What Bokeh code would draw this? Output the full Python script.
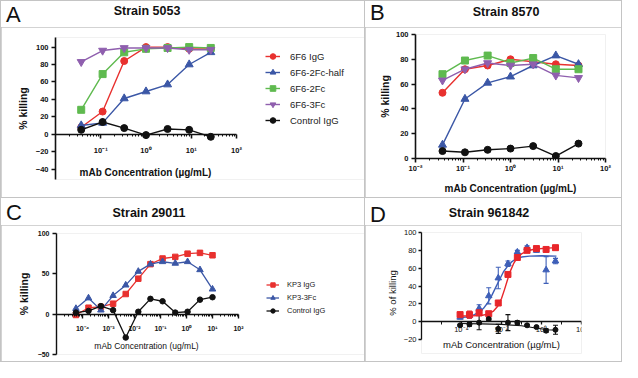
import math
from bokeh.plotting import figure
from bokeh.layouts import row, column
from bokeh.models import (FixedTicker, CustomJSTickFormatter, Range1d, Div, Legend,
                          LegendItem, Whisker, ColumnDataSource, TeeHead, Label)
from bokeh.embed import file_html
from bokeh.resources import INLINE

FONT = "Liberation Sans"

# ---------------- data ----------------
# Panel A / B : 3-fold dilutions (ug/mL)
conc_ab = [0.037, 0.11, 0.33, 1.0, 3.0, 9.0, 27.0]
labels_ab = ["6F6 IgG", "6F6-2Fc-half", "6F6-2Fc", "6F6-3Fc", "Control IgG"]

a_6f6_igg = [8, 26, 84, 100, 100, 98, 98]
a_2fc_half = [10, 13, 41, 49, 57, 80, 94]
a_2fc = [28, 69, 94, 98, 99, 100, 99]
a_3fc = [83, 96, 99, 99, 99, 97, 97]
a_ctrl = [5, 14, 7, -1, 6, 5, -3]

b_6f6_igg = [53, 72, 75, 80, 78, 76, 75]
b_2fc_half = [11, 48, 61, 66, 75, 83, 76]
b_2fc = [68, 79, 83, 77, 81, 72, 72]
b_3fc = [63, 72, 77, 75, 76, 67, 65]
b_ctrl = [6, 5, 7, 8, 10, 2, 12]

# Panel C
conc_c = [5.6e-5, 1.7e-4, 5.1e-4, 1.5e-3, 4.6e-3, 1.4e-2, 4.1e-2, 0.12, 0.37, 1.1, 3.3, 10.0]
labels_c = ["KP3 IgG", "KP3-3Fc", "Control IgG"]
c_kp3_igg = [-1, 8, 9, 13, 25, 44, 62, 69, 71, 75, 76, 73]
c_kp3_3fc = [7, 20, 5, 23, 36, 53, 62, 65, 63, 65, 55, 31]
c_ctrl = [2, 4, 10, 5, -29, 3, 19, 16, 2, 3, 18, 21]

# Panel D
conc_d = [8.5e-5, 2.5e-4, 7.6e-4, 2.3e-3, 6.9e-3, 0.021, 0.062, 0.19, 0.56, 1.7, 5.0]
d_igg = [8, 8, 10, 9, 21, 53, 72, 80, 82, 81, 83]
d_igg_err = [2, 4, 2, 2, 1, 2, 2, 2, 1, 1, 1]
d_3fc = [5, 7, 15, 29, 49, 65, 78, 83, 80, 58, 68]
d_3fc_err = [2, 3, 4, 9, 12, 3, 2, 2, 2, 15, 3]
d_ctrl = [-4, -3, -1, 3, -8, -1, -1, -4, -6, -10, -9]
d_ctrl_err = [1, 2, 8, 2, 5, 9, 2, 1, 1, 2, 5]

# fitted curves in D
d_igg_fit_x = [7.9e-5, 3.2e-4, 1e-3, 2.0e-3, 4.0e-3, 6.3e-3, 1e-2, 1.41e-2, 2.0e-2,
               2.8e-2, 4.0e-2, 6.3e-2, 0.1, 0.2, 0.5, 2.0, 5.6]
d_igg_fit_y = [6.5, 6.6, 7, 8.5, 12, 17, 26, 36, 47, 57, 65, 72, 76, 79.5, 81.5, 82.5, 83]
d_3fc_fit_x = [7.9e-5, 2.0e-4, 4.0e-4, 7.9e-4, 1.26e-3, 2.0e-3, 3.2e-3, 5.0e-3, 7.9e-3,
               1.26e-2, 2.0e-2, 3.2e-2, 5.0e-2, 0.1, 0.25, 1.0, 5.6]
d_3fc_fit_y = [4.5, 5.5, 7.5, 11, 15, 21, 29, 38, 47, 56, 62, 67, 70, 72.5, 73.5, 74, 73.5]
d_ctrl_fit_x = [7.9e-5, 1e-3, 1e-2, 0.1, 0.5, 2.0, 5.6]
d_ctrl_fit_y = [-2, -2.5, -3, -4.5, -7, -9, -9.5]

RED = "#e8312f"
BLUE = "#3b57a6"
GREEN = "#5fba4f"
PURPLE = "#8f5fae"
BLACK = "#111111"
D_RED = "#e8262a"
D_BLUE = "#3e5fb8"

SUP_JS = """
const e = Math.round(Math.log10(tick));
const m = {"-":"\\u207b","0":"\\u2070","1":"\\u00b9","2":"\\u00b2","3":"\\u00b3",
           "4":"\\u2074","5":"\\u2075","6":"\\u2076","7":"\\u2077","8":"\\u2078","9":"\\u2079"};
return "10" + String(e).split("").map(c => m[c]).join("");
"""


def minors(k0, k1):
    return [m * 10.0 ** k for k in range(k0, k1) for m in range(2, 10)]


def make_fig(w, h, left, right, top, bottom, xr, yr, x_loc="below"):
    p = figure(width=w, height=h, x_axis_type="log", x_axis_location=x_loc,
               x_range=Range1d(*xr), y_range=Range1d(*yr),
               output_backend="svg", toolbar_location=None,
               min_border_left=left, min_border_right=right,
               min_border_top=top, min_border_bottom=bottom)
    p.grid.visible = False
    p.outline_line_color = None
    p.background_fill_color = "white"
    p.border_fill_color = "white"
    for ax in (p.xaxis[0], p.yaxis[0]):
        ax.axis_line_color = BLACK
        ax.major_tick_line_color = BLACK
        ax.minor_tick_line_color = BLACK
        ax.major_tick_in = 0
        ax.minor_tick_in = 0
        ax.major_label_text_font = FONT
        ax.axis_label_text_font = FONT
        ax.major_label_text_color = BLACK
        ax.axis_label_text_color = BLACK
    p.yaxis.minor_tick_line_color = None
    p.xaxis.formatter = CustomJSTickFormatter(code=SUP_JS)
    return p


def log_end(start, frame_px, decade_px):
    # right end of a log range so that one decade spans decade_px pixels
    return 10 ** (math.log10(start) + frame_px / decade_px)


def style_bold_axes(p, lw=1.6):
    for ax in (p.xaxis[0], p.yaxis[0]):
        ax.axis_line_width = lw
        ax.major_tick_line_width = lw
        ax.minor_tick_line_width = 1
        ax.major_label_text_font_style = "bold"
        ax.axis_label_text_font_style = "bold"
        ax.major_label_text_font_size = "7.5px"
        ax.major_tick_out = 4
        ax.minor_tick_out = 2


def zero_axis_above(ax, tick, minor, lab_standoff):
    # x axis drawn at y = 0 with ticks and tick labels hanging below it
    ax.fixed_location = 0
    ax.major_tick_out = 0
    ax.minor_tick_out = 0
    ax.major_tick_in = tick
    ax.minor_tick_in = minor
    ax.major_label_standoff = lab_standoff


def axis_text(p, x, y, text, size, bold):
    p.add_layout(Label(x=x, y=y, x_units="screen", y_units="screen", text=text,
                       text_font=FONT, text_font_size=size,
                       text_font_style="bold" if bold else "normal",
                       text_align="center", text_baseline="middle",
                       text_color=BLACK))


def header(w, h, letter, lt, title, tx, tt):
    html = (
        f'<div style="position:relative;width:{w}px;height:{h}px;'
        f'font-family:\'{FONT}\';color:#111;">'
        f'<div style="position:absolute;left:5px;top:{lt}px;font-size:22px;'
        f'line-height:1;">{letter}</div>'
        f'<div style="position:absolute;left:{tx}px;top:{tt}px;font-size:12.5px;'
        f'font-weight:bold;line-height:1;white-space:nowrap;'
        f'transform:translateX(-50%);">{title}</div></div>'
    )
    return Div(text=html, width=w, height=h, margin=(0, 0, 0, 0),
               styles={"background-color": "white"})


def make_legend(items, loc, fsize, gw, gh, standoff):
    lg = Legend(items=items, location=loc)
    lg.label_text_font = FONT
    lg.label_text_font_size = fsize
    lg.label_text_color = "#222222"
    lg.glyph_width = gw
    lg.glyph_height = gh
    lg.spacing = 2
    lg.label_standoff = standoff
    lg.padding = 0
    lg.margin = 0
    lg.border_line_color = None
    lg.background_fill_alpha = 0
    return lg


# ---------------- Panel A ----------------
# frame runs to the right edge (room for the legend); x axis bounded to 1e-2..1e2
pa = make_fig(363, 170, 54, 0, 10, 18, (0.01, log_end(0.01, 309, 45.25)), (-52, 111),
              x_loc="above")
style_bold_axes(pa)
zero_axis_above(pa.xaxis[0], 4, 2, -21)
pa.xaxis.bounds = (0.01, 100)
pa.xaxis.ticker = FixedTicker(ticks=[0.1, 1, 10, 100], minor_ticks=minors(-2, 2))
pa.yaxis.ticker = FixedTicker(ticks=[-40, -20, 0, 20, 40, 60, 80, 100])
pa.yaxis.axis_label = "% killing"
pa.yaxis.axis_label_text_font_size = "10.5px"
pa.yaxis.major_label_standoff = 3
pa.yaxis.axis_label_standoff = 4
axis_text(pa, 90, 7, "mAb Concentration (µg/mL)", "10px", True)

series_a = [(a_6f6_igg, RED, "circle", 7), (a_2fc_half, BLUE, "triangle", 8),
            (a_2fc, GREEN, "square", 7), (a_3fc, PURPLE, "inverted_triangle", 8),
            (a_ctrl, BLACK, "circle", 7)]
items = []
for (ys, col, mk, sz), lab in zip(series_a, labels_ab):
    r1 = pa.line(conc_ab, ys, line_color=col, line_width=1.4)
    r2 = pa.scatter(conc_ab, ys, marker=mk, size=sz, fill_color=col, line_color=col)
    items.append(LegendItem(label=lab, renderers=[r1, r2]))
pa.add_layout(make_legend(items, (210, 52), "9.5px", 15, 14, 10))

# ---------------- Panel B ----------------
pb = make_fig(256, 170, 50, 16, 7, 39, (0.01, 100), (0, 100))
style_bold_axes(pb)
pb.xaxis.ticker = FixedTicker(ticks=[0.01, 0.1, 1, 10, 100], minor_ticks=minors(-2, 2))
pb.yaxis.ticker = FixedTicker(ticks=[0, 20, 40, 60, 80, 100])
pb.xaxis.axis_label = "mAb Concentration (µg/mL)"
pb.xaxis.axis_label_text_font_size = "10px"
pb.xaxis.major_label_standoff = 1
pb.xaxis.axis_label_standoff = 7
pb.yaxis.axis_label = "% killing"
pb.yaxis.axis_label_text_font_size = "10.5px"
pb.yaxis.major_label_standoff = 3
pb.yaxis.axis_label_standoff = 2
series_b = [(b_6f6_igg, RED, "circle", 7), (b_2fc_half, BLUE, "triangle", 8),
            (b_2fc, GREEN, "square", 7), (b_3fc, PURPLE, "inverted_triangle", 8),
            (b_ctrl, BLACK, "circle", 7)]
for ys, col, mk, sz in series_b:
    pb.line(conc_ab, ys, line_color=col, line_width=1.4)
    pb.scatter(conc_ab, ys, marker=mk, size=sz, fill_color=col, line_color=col)

# ---------------- Panel C ----------------
pc = make_fig(363, 136, 55, 0, 8, 7, (1e-5, log_end(1e-5, 308, 26)), (-50, 100),
              x_loc="above")
style_bold_axes(pc, lw=1.4)
zero_axis_above(pc.xaxis[0], 4, 2, -18)
pc.xaxis.bounds = (1e-5, 100)
pc.xaxis.major_label_text_font_size = "7px"
pc.yaxis.major_label_text_font_size = "7px"
pc.xaxis.ticker = FixedTicker(ticks=[1e-4, 1e-3, 1e-2, 0.1, 1, 10, 100],
                              minor_ticks=minors(-5, 2))
pc.yaxis.ticker = FixedTicker(ticks=[-50, 0, 50, 100])
pc.yaxis.axis_label = "% killing"
pc.yaxis.axis_label_text_font_size = "10.5px"
pc.yaxis.major_label_standoff = 3
pc.yaxis.axis_label_standoff = 5
axis_text(pc, 90, 9, "mAb Concentration (ug/mL)", "8.5px", False)
series_c = [(c_kp3_igg, RED, "square", 5.5), (c_kp3_3fc, BLUE, "triangle", 6.5),
            (c_ctrl, BLACK, "circle", 5.5)]
items = []
for (ys, col, mk, sz), lab in zip(series_c, labels_c):
    r1 = pc.line(conc_c, ys, line_color=col, line_width=1.3)
    r2 = pc.scatter(conc_c, ys, marker=mk, size=sz, fill_color=col, line_color=col)
    items.append(LegendItem(label=lab, renderers=[r1, r2]))
pc.add_layout(make_legend(items, (210, 38), "7.5px", 13, 11, 8))

# ---------------- Panel D ----------------
# frame extends below -20 (room for the axis title); y axis bounded to -20..100
pd = make_fig(256, 136, 56, 40, 7, 8, (1e-6, 100), (-35.6, 100), x_loc="above")
for ax in (pd.xaxis[0], pd.yaxis[0]):
    ax.axis_line_width = 1.3
    ax.major_tick_line_width = 1.3
    ax.major_label_text_font_size = "7.5px"
    ax.major_tick_out = 3
    ax.minor_tick_out = 3
    ax.axis_label_text_font_style = "normal"
    ax.axis_label_text_font_size = "9.5px"
zero_axis_above(pd.xaxis[0], 3, 3, -12)
pd.yaxis.bounds = (-20, 100)
pd.xaxis.ticker = FixedTicker(ticks=[1e-4, 1e-2, 1, 100], minor_ticks=[1e-5, 1e-3, 0.1, 10])
pd.yaxis.ticker = FixedTicker(ticks=[-20, 0, 20, 40, 60, 80, 100])
pd.yaxis.axis_label = "% of killing"
pd.yaxis.major_label_standoff = 2
pd.yaxis.axis_label_standoff = 3
axis_text(pd, 80, 9, "mAb Concentration (µg/mL)", "9.5px", False)

pd.line(d_3fc_fit_x, d_3fc_fit_y, line_color=D_BLUE, line_width=1.4)
pd.line(d_igg_fit_x, d_igg_fit_y, line_color=D_RED, line_width=1.4)
pd.line(d_ctrl_fit_x, d_ctrl_fit_y, line_color=BLACK, line_width=1.2)
for ys, errs, col, mk, sz in [(d_3fc, d_3fc_err, D_BLUE, "triangle", 6.5),
                              (d_igg, d_igg_err, D_RED, "square", 6),
                              (d_ctrl, d_ctrl_err, BLACK, "circle", 5)]:
    src = ColumnDataSource(dict(x=conc_d, y=ys,
                                lo=[v - e for v, e in zip(ys, errs)],
                                up=[v + e for v, e in zip(ys, errs)]))
    pd.add_layout(Whisker(source=src, base="x", lower="lo", upper="up",
                          line_color=col, line_width=1.1,
                          lower_head=TeeHead(size=5, line_color=col, line_width=1.1),
                          upper_head=TeeHead(size=5, line_color=col, line_width=1.1)))
    pd.scatter("x", "y", source=src, marker=mk, size=sz, fill_color=col, line_color=col)

panel_a = column(header(363, 26, "A", 3, "Strain 5053", 146, 4), pa, spacing=0)
panel_b = column(header(256, 26, "B", 1, "Strain 8570", 141, 5), pb, spacing=0)
panel_c = column(header(363, 27, "C", 4, "Strain 29011", 148, 9), pc, spacing=0)
panel_d = column(header(256, 27, "D", 6, "Strain 961842", 124, 9), pd, spacing=0)

top = row(panel_a, panel_b, spacing=1)
bot = row(panel_c, panel_d, spacing=1)
layout = column(top, bot, spacing=1,
                styles={"background-color": "#c4c4c4", "padding": "1px"})

open("out.html", "w").write(file_html(layout, INLINE))
